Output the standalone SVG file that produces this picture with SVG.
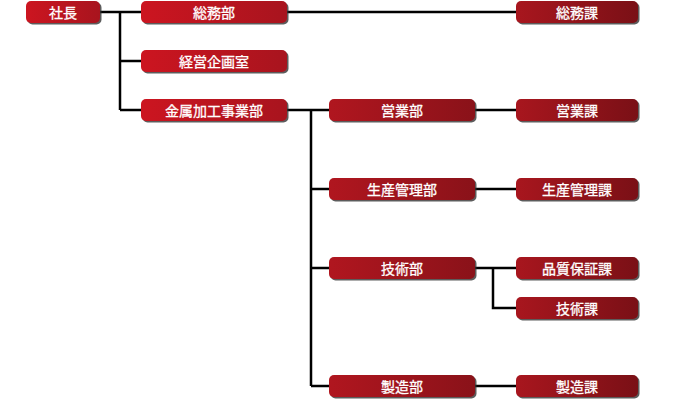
<svg xmlns="http://www.w3.org/2000/svg" width="695" height="400" viewBox="0 0 695 400">
<defs>
<linearGradient id="gA" x1="0" y1="0" x2="1" y2="0">
<stop offset="0" stop-color="#cc1520"/><stop offset="1" stop-color="#a8141e"/>
</linearGradient>
<linearGradient id="gB" x1="0" y1="0" x2="1" y2="0">
<stop offset="0" stop-color="#b0161f"/><stop offset="1" stop-color="#8a1219"/>
</linearGradient>
<linearGradient id="gC" x1="0" y1="0" x2="1" y2="0">
<stop offset="0" stop-color="#a8161e"/><stop offset="1" stop-color="#7a1016"/>
</linearGradient>
</defs>
<style>
.sh{fill:#333;opacity:.8}
.a{fill:url(#gA)}
.b{fill:url(#gB)}
.c{fill:url(#gC)}
text{font-family:"Noto Sans CJK JP","Noto Sans",sans-serif;font-size:14px;fill:#fff;stroke:#fff;stroke-width:0.3;text-anchor:middle;dominant-baseline:central}
.ln{stroke:#000;stroke-width:2.5;fill:none}
</style>
<rect width="695" height="400" fill="#fff"/>
<g id="connectors">
<path class="ln" d="M100 12H141M120 12V110M120 61H141M120 110H141"/>
<path class="ln" d="M287 12H516"/>
<path class="ln" d="M287 110H329M311 110V386M311 189H329M311 268H329M311 386H329"/>
<path class="ln" d="M475 110H516M475 189H516M475 268H516M493 268V308H516M475 386H516"/>
</g>
<g id="n-shacho"><rect class="sh" x="27.5" y="2.5" width="74" height="22" rx="5"/><rect class="a" x="26" y="1" width="74" height="22" rx="5"/><text x="63" y="12">社長</text></g>
<g id="n-somubu"><rect class="sh" x="142.5" y="2.5" width="146" height="22" rx="5"/><rect class="a" x="141" y="1" width="146" height="22" rx="5"/><text x="214" y="12">総務部</text></g>
<g id="n-keiei"><rect class="sh" x="142.5" y="51.5" width="146" height="22" rx="5"/><rect class="a" x="141" y="50" width="146" height="22" rx="5"/><text x="214" y="61">経営企画室</text></g>
<g id="n-kinzoku"><rect class="sh" x="142.5" y="100.5" width="146" height="22" rx="5"/><rect class="a" x="141" y="99" width="146" height="22" rx="5"/><text x="214" y="110">金属加工事業部</text></g>
<g id="n-eigyobu"><rect class="sh" x="330.5" y="100.5" width="146" height="22" rx="5"/><rect class="b" x="329" y="99" width="146" height="22" rx="5"/><text x="402" y="110">営業部</text></g>
<g id="n-seisanbu"><rect class="sh" x="330.5" y="179.5" width="146" height="22" rx="5"/><rect class="b" x="329" y="178" width="146" height="22" rx="5"/><text x="402" y="189">生産管理部</text></g>
<g id="n-gijutsubu"><rect class="sh" x="330.5" y="258.5" width="146" height="22" rx="5"/><rect class="b" x="329" y="257" width="146" height="22" rx="5"/><text x="402" y="268">技術部</text></g>
<g id="n-seizobu"><rect class="sh" x="330.5" y="376.5" width="146" height="22" rx="5"/><rect class="b" x="329" y="375" width="146" height="22" rx="5"/><text x="402" y="386">製造部</text></g>
<g id="n-somuka"><rect class="sh" x="517.5" y="2.5" width="122" height="22" rx="5"/><rect class="c" x="516" y="1" width="122" height="22" rx="5"/><text x="577" y="12">総務課</text></g>
<g id="n-eigyoka"><rect class="sh" x="517.5" y="100.5" width="122" height="22" rx="5"/><rect class="c" x="516" y="99" width="122" height="22" rx="5"/><text x="577" y="110">営業課</text></g>
<g id="n-seisanka"><rect class="sh" x="517.5" y="179.5" width="122" height="22" rx="5"/><rect class="c" x="516" y="178" width="122" height="22" rx="5"/><text x="577" y="189">生産管理課</text></g>
<g id="n-hinshitsu"><rect class="sh" x="517.5" y="258.5" width="122" height="22" rx="5"/><rect class="c" x="516" y="257" width="122" height="22" rx="5"/><text x="577" y="268">品質保証課</text></g>
<g id="n-gijutsuka"><rect class="sh" x="517.5" y="298.5" width="122" height="22" rx="5"/><rect class="c" x="516" y="297" width="122" height="22" rx="5"/><text x="577" y="308">技術課</text></g>
<g id="n-seizoka"><rect class="sh" x="517.5" y="376.5" width="122" height="22" rx="5"/><rect class="c" x="516" y="375" width="122" height="22" rx="5"/><text x="577" y="386">製造課</text></g>
</svg>
